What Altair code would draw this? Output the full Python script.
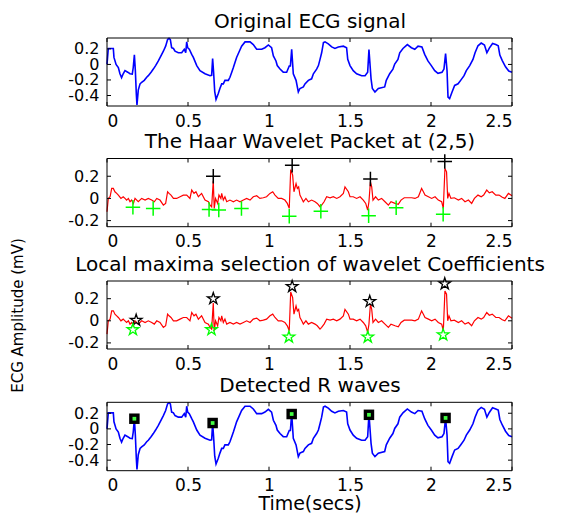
import altair as alt
import pandas as pd

# ---------------- data ----------------
ecg_t = [0.000, 0.008, 0.039, 0.043, 0.056, 0.070, 0.080, 0.090, 0.100, 0.111,
         0.128, 0.142, 0.156, 0.162, 0.169, 0.175, 0.181, 0.185, 0.193, 0.204,
         0.214, 0.230, 0.245, 0.255, 0.272, 0.286, 0.300, 0.317, 0.333, 0.348,
         0.362, 0.374, 0.383, 0.391, 0.399, 0.410, 0.420, 0.440, 0.461, 0.477,
         0.486, 0.492, 0.498, 0.508, 0.523, 0.533, 0.554, 0.574, 0.605, 0.636,
         0.646, 0.652, 0.658, 0.665, 0.673, 0.687, 0.697, 0.708, 0.718, 0.728,
         0.749, 0.759, 0.770, 0.780, 0.790, 0.800, 0.817, 0.831, 0.852, 0.883,
         0.903, 0.924, 0.955, 0.975, 0.996, 1.016, 1.027, 1.043, 1.051, 1.068,
         1.088, 1.109, 1.125, 1.132, 1.140, 1.150, 1.167, 1.181, 1.191, 1.212,
         1.222, 1.243, 1.263, 1.274, 1.294, 1.305, 1.315, 1.325, 1.336, 1.346,
         1.366, 1.387, 1.407, 1.428, 1.459, 1.479, 1.486, 1.500, 1.520, 1.541,
         1.572, 1.593, 1.609, 1.617, 1.630, 1.638, 1.654, 1.675, 1.714, 1.724,
         1.745, 1.765, 1.776, 1.796, 1.807, 1.827, 1.854, 1.879, 1.900, 1.920,
         1.944, 1.961, 1.981, 2.002, 2.023, 2.043, 2.068, 2.080, 2.090, 2.099,
         2.105, 2.115, 2.130, 2.146, 2.167, 2.183, 2.204, 2.218, 2.239, 2.259,
         2.272, 2.290, 2.310, 2.330, 2.345, 2.360, 2.380, 2.400, 2.415, 2.425,
         2.440, 2.460, 2.480, 2.500]
ecg_v = [0.000, 0.205, 0.205, 0.090, 0.000, -0.040, -0.120, -0.170, -0.120, -0.080,
         -0.100, -0.120, -0.125, -0.040, 0.125, -0.080, -0.380, -0.520, -0.330, -0.250,
         -0.230, -0.205, -0.165, -0.145, -0.100, -0.060, -0.015, 0.045, 0.110, 0.170,
         0.235, 0.320, 0.335, 0.320, 0.215, 0.205, 0.170, 0.150, 0.150, 0.195,
         0.150, 0.290, 0.215, 0.195, 0.130, 0.090, -0.015, -0.080, -0.120, -0.145,
         -0.140, 0.075, -0.100, -0.350, -0.450, -0.375, -0.310, -0.250, -0.250, -0.205,
         -0.205, -0.165, -0.100, -0.040, 0.025, 0.090, 0.170, 0.235, 0.290, 0.290,
         0.255, 0.195, 0.195, 0.215, 0.250, 0.215, 0.110, 0.045, -0.015, -0.060,
         -0.100, -0.100, -0.020, -0.020, 0.195, -0.120, -0.205, -0.355, -0.310, -0.290,
         -0.250, -0.205, -0.185, -0.120, -0.060, -0.015, 0.065, 0.150, 0.280, 0.290,
         0.265, 0.225, 0.205, 0.225, 0.235, 0.215, 0.065, -0.015, -0.080, -0.120,
         -0.145, -0.145, -0.100, 0.190, -0.185, -0.310, -0.355, -0.310, -0.290, -0.205,
         -0.120, -0.060, 0.005, 0.065, 0.150, 0.205, 0.255, 0.215, 0.195, 0.235,
         0.225, 0.130, 0.045, -0.015, -0.080, -0.115, -0.100, -0.060, 0.140, -0.080,
         -0.420, -0.440, -0.355, -0.270, -0.250, -0.205, -0.145, -0.080, -0.015, 0.065,
         0.150, 0.240, 0.275, 0.250, 0.150, 0.210, 0.270, 0.255, 0.240, 0.120,
         0.050, -0.030, -0.085, -0.100]

wav_t = [0.000, 0.008, 0.019, 0.029, 0.039, 0.049, 0.060, 0.070, 0.086, 0.100,
         0.111, 0.121, 0.132, 0.142, 0.152, 0.163, 0.173, 0.193, 0.214, 0.235,
         0.255, 0.276, 0.292, 0.307, 0.327, 0.348, 0.362, 0.374, 0.383, 0.395,
         0.410, 0.430, 0.451, 0.471, 0.492, 0.512, 0.523, 0.537, 0.549, 0.564,
         0.584, 0.605, 0.626, 0.636, 0.646, 0.656, 0.662, 0.670, 0.683, 0.691,
         0.703, 0.708, 0.718, 0.728, 0.739, 0.759, 0.780, 0.800, 0.821, 0.842,
         0.862, 0.883, 0.903, 0.924, 0.944, 0.965, 0.985, 1.006, 1.023, 1.037,
         1.057, 1.078, 1.098, 1.113, 1.125, 1.134, 1.146, 1.154, 1.167, 1.175,
         1.183, 1.191, 1.202, 1.212, 1.228, 1.243, 1.263, 1.284, 1.298, 1.315,
         1.325, 1.340, 1.356, 1.377, 1.397, 1.418, 1.438, 1.459, 1.469, 1.490,
         1.500, 1.520, 1.541, 1.562, 1.582, 1.597, 1.609, 1.617, 1.626, 1.634,
         1.642, 1.658, 1.675, 1.695, 1.716, 1.737, 1.753, 1.778, 1.798, 1.815,
         1.835, 1.860, 1.881, 1.901, 1.922, 1.942, 1.953, 1.963, 1.984, 2.004,
         2.025, 2.045, 2.066, 2.076, 2.086, 2.096, 2.103, 2.111, 2.123, 2.144,
         2.169, 2.189, 2.210, 2.231, 2.251, 2.268, 2.290, 2.310, 2.325, 2.344,
         2.360, 2.378, 2.400, 2.420, 2.440, 2.456, 2.478, 2.500]
wav_v = [-0.120, 0.000, 0.015, 0.090, 0.090, 0.060, 0.045, 0.030, 0.000, 0.015,
         0.000, -0.015, 0.000, -0.030, -0.015, -0.045, 0.000, -0.030, 0.000, -0.015,
         0.000, -0.015, -0.030, 0.000, -0.015, -0.060, -0.045, 0.060, 0.045, 0.030,
         0.000, 0.000, 0.015, 0.030, 0.030, 0.000, 0.075, 0.045, 0.060, 0.015,
         0.045, -0.015, -0.030, -0.060, -0.075, 0.160, -0.090, 0.000, -0.045, 0.030,
         0.000, 0.045, -0.015, 0.015, -0.030, -0.015, -0.030, -0.015, -0.030, -0.015,
         0.000, -0.015, 0.015, 0.024, 0.000, 0.006, 0.015, 0.045, 0.060, 0.030,
         0.000, 0.000, -0.015, -0.045, -0.090, 0.260, 0.210, 0.060, 0.134, 0.090,
         0.104, 0.030, 0.000, -0.030, 0.000, -0.030, -0.015, -0.030, -0.045, -0.075,
         -0.060, -0.030, 0.015, 0.006, 0.015, 0.000, 0.015, 0.045, 0.104, 0.060,
         0.015, 0.015, 0.000, 0.015, -0.015, -0.045, -0.105, -0.030, 0.150, 0.104,
         -0.015, 0.015, -0.015, 0.000, -0.030, -0.060, -0.030, -0.045, -0.054, -0.015,
         0.006, 0.006, 0.006, 0.000, 0.015, 0.090, 0.060, 0.030, 0.015, 0.000,
         0.015, -0.015, -0.030, -0.090, 0.270, 0.240, 0.000, 0.045, 0.000, 0.006,
         -0.015, 0.000, -0.030, -0.015, -0.045, 0.000, 0.030, 0.015, 0.030, 0.075,
         0.050, 0.060, 0.030, 0.030, 0.010, 0.000, 0.045, 0.024]

plus_max_t = [0.656, 1.143, 1.626, 2.085]
plus_max_v = [0.200, 0.300, 0.175, 0.333]
plus_min_t = [0.160, 0.285, 0.630, 0.690, 0.830, 1.125, 1.320, 1.615, 1.785, 2.075]
plus_min_v = [-0.080, -0.090, -0.100, -0.105, -0.090, -0.160, -0.115, -0.157, -0.085, -0.143]

star_max_t = [0.180, 0.656, 1.143, 1.622, 2.085]
star_max_v = [0.005, 0.200, 0.310, 0.175, 0.335]
star_min_t = [0.160, 0.645, 1.123, 1.610, 2.075]
star_min_v = [-0.080, -0.080, -0.147, -0.147, -0.127]

r_t = [0.169, 0.652, 1.140, 1.617, 2.090]
r_v = [0.130, 0.075, 0.190, 0.180, 0.140]

panel_titles = ["Original ECG signal",
                "The Haar Wavelet Packet at (2,5)",
                "Local maxima selection of wavelet Coefficients",
                "Detected R waves"]
y_label = "ECG Amplitude (mV)"
x_label = "Time(secs)"

x_domain = [0, 2.5]
x_ticks = [0, 0.5, 1, 1.5, 2, 2.5]
ecg_domain = [-0.535, 0.34]
wav_domain = [-0.255, 0.36]
ecg_ticks = [-0.4, -0.2, 0, 0.2]
wav_ticks = [-0.2, 0, 0.2]

# ---------------- layout (pixels, relative to the plot origin) ----------------
FONT = "DejaVu Sans"
W = 405
HT = 433
TOPS = [0, 120.5, 243, 364.3]
BOTS = [68, 188.7, 311, 432.7]
TICK = 4
PLUS = "M-1,0L1,0M0,-1L0,1"
STAR = ("M0,-1L0.225,-0.309L0.951,-0.309L0.363,0.118L0.588,0.809L0,0.382"
        "L-0.588,0.809L-0.363,0.118L-0.951,-0.309L-0.225,-0.309Z")
LBL = "'' + round(datum.value*10)/10"

ecg_df = pd.DataFrame({"t": ecg_t, "v": ecg_v})
wav_df = pd.DataFrame({"t": wav_t, "v": wav_v})
xt_df = pd.DataFrame({"t": x_ticks})


def panel(k, df, color, lw, ydom, yticks, extras, xtitle=None, ytitle=None):
    top, bot = TOPS[k], BOTS[k]
    xs = alt.Scale(domain=x_domain, range=[0, W], nice=False, zero=False)
    ys = alt.Scale(domain=ydom, range=[bot, top], nice=False, zero=False)
    X = alt.X("t:Q", scale=xs, title=xtitle,
              axis=alt.Axis(orient="bottom", offset=bot - HT, values=x_ticks,
                            labelExpr=LBL, ticks=False, domain=False, grid=False,
                            labelPadding=7, labelFontSize=17, titlePadding=1,
                            titleFontSize=19))
    Y = alt.Y("v:Q", scale=ys, title=ytitle,
              axis=alt.Axis(orient="left", values=yticks, labelExpr=LBL, ticks=False,
                            domain=False, grid=False, labelPadding=8,
                            labelFontSize=16, labelOverlap=False,
                            titlePadding=42, titleFontSize=15))
    line = alt.Chart(df).mark_line(color=color, strokeWidth=lw).encode(x=X, y=Y)

    yt_df = pd.DataFrame({"v": yticks})
    tick_b = alt.Chart(xt_df).mark_rule(color="black", strokeWidth=1).encode(
        x=X, y=alt.value(bot), y2=alt.value(bot - TICK))
    tick_t = alt.Chart(xt_df).mark_rule(color="black", strokeWidth=1).encode(
        x=X, y=alt.value(top), y2=alt.value(top + TICK))
    tick_l = alt.Chart(yt_df).mark_rule(color="black", strokeWidth=1).encode(
        y=Y, x=alt.value(0), x2=alt.value(TICK))
    tick_r = alt.Chart(yt_df).mark_rule(color="black", strokeWidth=1).encode(
        y=Y, x=alt.value(W), x2=alt.value(W - TICK))
    inner = alt.layer(line, *[e(X, Y) for e in extras], tick_b, tick_t, tick_l, tick_r)

    box_df = pd.DataFrame({"t0": [x_domain[0]], "t1": [x_domain[1]],
                           "v0": [ydom[0]], "v1": [ydom[1]]})
    box = alt.Chart(box_df).mark_rect(fillOpacity=0, stroke="black", strokeWidth=1).encode(
        x=alt.X("t0:Q", scale=xs, title=panel_titles[k],
                axis=alt.Axis(orient="top", offset=-top, labels=False, ticks=False,
                              domain=False, grid=False, titlePadding=7,
                              titleFontSize=20)),
        x2="t1:Q",
        y=alt.Y("v0:Q", scale=ys, axis=None),
        y2="v1:Q",
    )
    return [inner, box]


def sym_layer(ts, vs, col, shape, size, sw):
    d = pd.DataFrame({"t": ts, "v": vs})
    return lambda X, Y: alt.Chart(d).mark_point(
        shape=shape, filled=False, stroke=col, strokeWidth=sw, size=size, opacity=1
    ).encode(x=X, y=Y)


def square_layer(ts, vs, col, size):
    d = pd.DataFrame({"t": ts, "v": vs})
    return lambda X, Y: alt.Chart(d).mark_point(
        shape="square", filled=True, fill=col, stroke=col, strokeWidth=0,
        size=size, opacity=1).encode(x=X, y=Y)


layers = []
layers += panel(0, ecg_df, "#0000ff", 1.6, ecg_domain, ecg_ticks, [])
layers += panel(1, wav_df, "#ff0000", 1.2, wav_domain, wav_ticks,
                [sym_layer(plus_max_t, plus_max_v, "black", PLUS, 210, 1.5),
                 sym_layer(plus_min_t, plus_min_v, "#00ff00", PLUS, 210, 1.5)])
layers += panel(2, wav_df, "#ff0000", 1.2, wav_domain, wav_ticks,
                [sym_layer(star_max_t, star_max_v, "black", STAR, 150, 1.3),
                 sym_layer(star_min_t, star_min_v, "#00ff00", STAR, 150, 1.3)],
                ytitle=y_label)
layers += panel(3, ecg_df, "#0000ff", 1.6, ecg_domain, ecg_ticks,
                [square_layer(r_t, r_v, "black", 110),
                 square_layer(r_t, r_v, "#44ff44", 14)],
                xtitle=x_label)

chart = alt.layer(*layers).resolve_scale(x="independent", y="independent").properties(
    width=W, height=HT,
    autosize=alt.AutoSizeParams(type="none"),
    padding={"left": 107, "top": 38, "right": 59, "bottom": 46},
    background="white",
).configure_view(strokeWidth=0, strokeOpacity=0).configure_axis(
    labelFont=FONT, labelColor="black",
    titleFont=FONT, titleFontWeight="normal", titleColor="black",
)

chart.save("out.html", embed_options={"renderer": "svg", "actions": False})
